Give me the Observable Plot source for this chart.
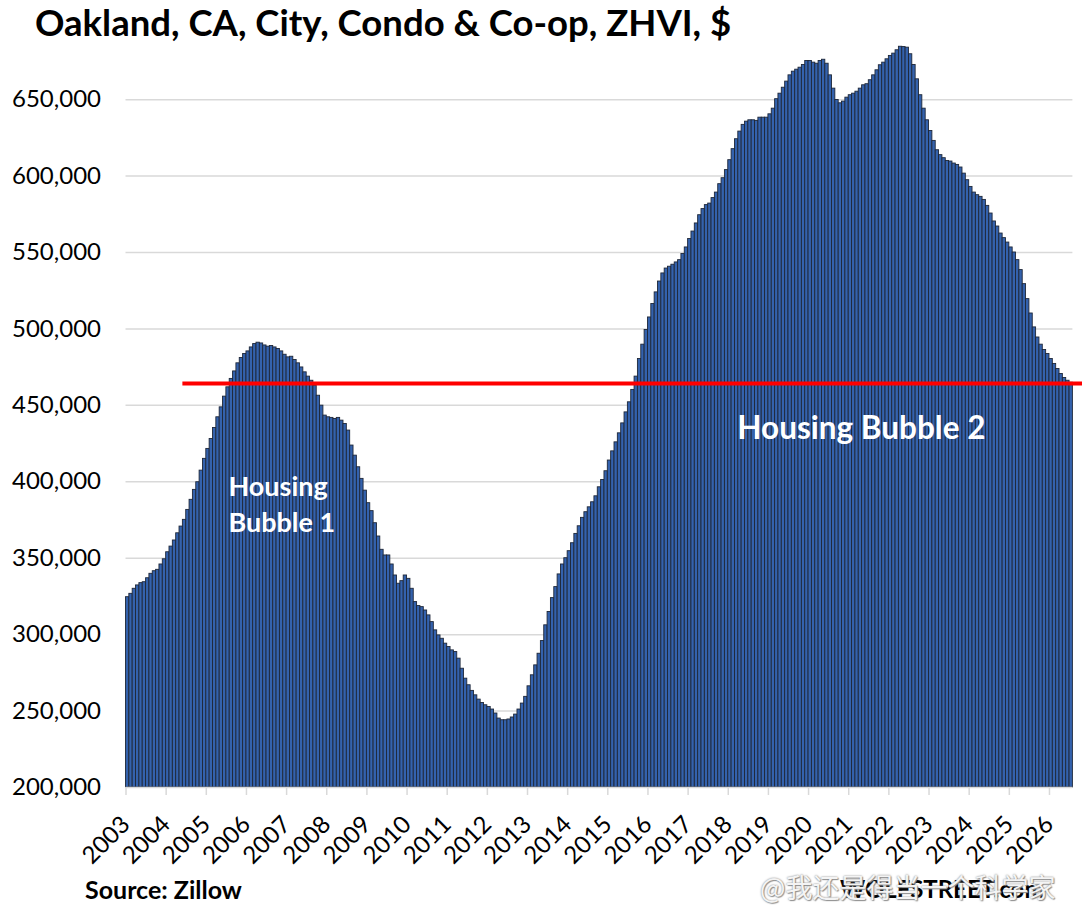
<!DOCTYPE html>
<html>
<head>
<meta charset="utf-8">
<script src="https://cdn.jsdelivr.net/npm/d3@7"></script>
<script src="https://cdn.jsdelivr.net/npm/@observablehq/plot@0.6"></script>
<style>
  body { margin: 0; background: #fff; }
  #wrap { position: relative; width: 1082px; height: 916px; overflow: hidden; font-family: Lato, "Open Sans", sans-serif; background: #fff; }
  #title { position: absolute; left: 35px; top: 4px; z-index: 3; font-size: 36.5px; line-height: 36.5px; font-weight: 700; color: #000; white-space: nowrap; }
  #chart { position: absolute; left: 0; top: 36px; z-index: 1; }
  .foot { position: absolute; white-space: nowrap; z-index: 2; }
  #source { left: 85px; top: 877px; font-size: 25px; line-height: 25px; font-weight: 700; color: #000; }
  #site { left: 840px; top: 877px; font-size: 24px; line-height: 24px; font-weight: 700; color: #000; }
  #wm { left: 760px; top: 872px; font-family: "Noto Sans CJK SC", sans-serif; font-size: 27px; line-height: 30px; color: #f4f4f4; text-shadow: 0 0 2px #777, 1px 1px 1px #999; z-index: 4; }
</style>
</head>
<body>
<div id="wrap">
  <div id="title"></div>
  <div id="chart"></div>
  <div id="source" class="foot"></div>
  <div id="site" class="foot"></div>
  <div id="wm" class="foot"></div>
</div>
<script>
// ---- Data (monthly, Jan 2003 onward) ----
const titleText = "Oakland, CA, City, Condo & Co-op, ZHVI, $";
const sourceText = "Source: Zillow";
const siteText = "WOLFSTREET.com";
const watermarkText = "@我还是得当一个科学家";

const startYear = 2003;

const values = [
  324500, 326700, 330000, 332200, 333700, 334300, 336900, 339800, 341500, 342400,
  345900, 349300, 353900, 357600, 361600, 366300, 370700, 375100, 381600, 388200,
  394700, 399700, 407300, 415000, 421500, 428000, 435200, 442200, 448700, 455700,
  461800, 467300, 472200, 477500, 481000, 483600, 485300, 487900, 490100, 491000,
  490500, 489200, 488400, 488800, 487900, 486900, 485300, 483100, 481400, 481800,
  479700, 477500, 474800, 471600, 468800, 466100, 462900, 456300, 449800, 443300,
  442200, 441800, 441100, 441800, 440000, 437800, 433500, 423700, 417100, 409500,
  401900, 394200, 386000, 380800, 372900, 364200, 355500, 351800, 351800, 345900,
  338700, 333300, 335000, 338700, 336500, 330000, 321300, 318700, 318000, 315800,
  312600, 308200, 302800, 299500, 297300, 294100, 291900, 289700, 288600, 284300,
  277700, 271200, 266900, 263200, 260300, 257500, 255300, 253800, 252700, 251000,
  248400, 245100, 244000, 244000, 244500, 245800, 247700, 251000, 254900, 259300,
  266200, 273400, 279900, 287500, 295800, 306100, 314800, 323900, 331100, 339400,
  345900, 350000, 354600, 359800, 365900, 370900, 376400, 380100, 383300, 386600,
  390500, 396400, 401200, 406900, 413900, 419900, 425800, 431700, 438200, 445400,
  452000, 460100, 468800, 480300, 489700, 499300, 507500, 516300, 523900, 531000,
  536300, 539500, 540700, 542000, 543500, 545000,
  549000, 553300, 558800, 563700, 569000, 574400, 578400, 581000, 582000, 585600,
  589200, 594700, 598600, 603900, 610400, 617600, 624100, 629100, 633500, 635600,
  636500, 636500, 636100, 638200, 638200, 638200, 640400, 644100, 650300, 653900,
  657800, 661800, 665900, 668300, 669600, 670900, 672700, 675300, 675300, 674200,
  673500, 675300, 676100, 673500, 665900, 657200, 649800, 647600, 648700, 651300,
  652900, 653900, 655200, 657200,
  659400, 660100, 662700, 665900, 669200, 672500, 674200, 676400, 678600, 680100,
  682300, 684600, 684400, 684000, 679700, 672700, 663300, 652900, 644100, 636500,
  629500, 623000, 616900, 613700, 611700, 609900, 609500, 608200, 607300, 605600,
  601600, 597300, 592900, 589200, 587500, 586400, 584400, 580500, 575500, 570300,
  567000, 562400, 559400, 556500, 553300, 550000, 545000, 538500, 529300, 519500,
  510100, 501000, 494400, 489700, 486200, 483600, 480300, 477100, 473800, 470500,
  467900, 466100, 464800
];

const yearLabels = ["2003","2004","2005","2006","2007","2008","2009","2010","2011","2012","2013","2014",
  "2015","2016","2017","2018","2019","2020","2021","2022","2023","2024","2025","2026"];

const yTicks = [200000, 250000, 300000, 350000, 400000, 450000, 500000, 550000, 600000, 650000];
const gridTicks = [250000, 300000, 350000, 400000, 450000, 500000, 550000, 600000, 650000];
const yDomain = [200000, 690000];

// Red reference line (month index from Jan 2003 -> value)
const refLine = [{from: 17, to: 286, value: 464300}];

// Annotations (month index, value)
const bubble1 = [{i: 30.6, v: 386400, label: "Housing\nBubble 1"}];
const bubble2 = [{i: 182.7, v: 434900, label: "Housing Bubble 2"}];

// ---- Build ----
const data = values.map((v, i) => ({i, v}));
const yearData = yearLabels.map((label, k) => ({idx: k * 12, label}));

document.getElementById("title").textContent = titleText;
document.getElementById("source").textContent = sourceText;
document.getElementById("site").textContent = siteText;
document.getElementById("wm").textContent = watermarkText;

const chart = Plot.plot({
  width: 1082,
  height: 834,
  marginTop: 2,
  marginBottom: 83,
  marginLeft: 125.5,
  marginRight: 9.6,
  style: {fontFamily: "Lato, 'Open Sans', sans-serif", fontSize: "24px", color: "#000", background: "transparent", overflow: "visible"},
  x: {type: "linear", domain: [0, values.length], axis: null},
  y: {domain: yDomain, axis: null},
  marks: [
    Plot.gridY(gridTicks, {stroke: "#d9d9d9", strokeOpacity: 1, strokeWidth: 1.5}),
    Plot.rect(data, {
      x1: "i", x2: d => d.i + 1, y1: () => yDomain[0], y2: "v",
      fill: "#3462AD", stroke: "#1E2738", strokeWidth: 0.9
    }),
    Plot.ruleY([yDomain[0]], {stroke: "#d9d9d9", strokeWidth: 1.5}),
    Plot.axisX(yearData.map(d => d.idx), {tickSize: 8, tickFormat: () => "", stroke: "#d9d9d9", strokeWidth: 1.5, label: null}),
    Plot.text(yearData, {
      x: "idx", text: "label", frameAnchor: "bottom", dy: 33, rotate: -45,
      textAnchor: "end", lineAnchor: "middle", fontSize: 24, fill: "#000"
    }),
    Plot.axisY(yTicks, {tickSize: 0, tickPadding: 25, tickFormat: d3.format(","), fontSize: 24, fill: "#000", label: null}),
    Plot.ruleY(refLine, {y: "value", x1: "from", x2: "to", stroke: "#FF0000", strokeWidth: 4}),
    Plot.text(bubble1, {x: "i", y: "v", text: "label", fill: "#fff", fontWeight: "bold", fontSize: 27, lineHeight: 1.33, textAnchor: "start", lineAnchor: "middle"}),
    Plot.text(bubble2, {x: "i", y: "v", text: "label", fill: "#fff", fontWeight: "bold", fontSize: 31.5, textAnchor: "start", lineAnchor: "middle"})
  ]
});
document.getElementById("chart").appendChild(chart);
</script>
</body>
</html>
